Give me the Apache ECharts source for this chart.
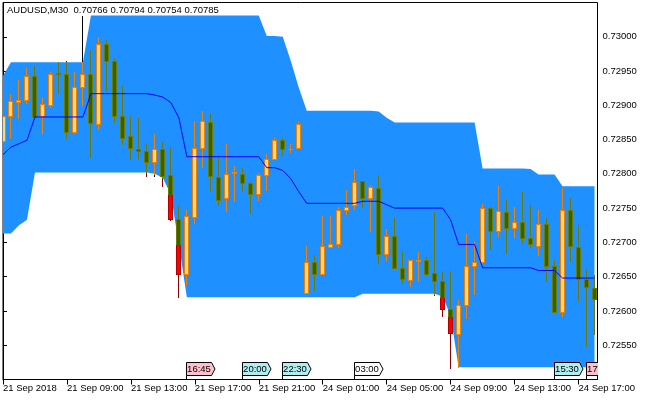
<!DOCTYPE html>
<html>
<head>
<meta charset="utf-8">
<title>AUDUSD,M30</title>
<script src="https://cdn.jsdelivr.net/npm/echarts@6/dist/echarts.min.js"></script>
<style>
  html, body { margin: 0; padding: 0; background: #fff; }
  #main { width: 650px; height: 400px; }
</style>
</head>
<body>
<div id="main"></div>
<script>
// ---- data (one entry per M30 bar, bar 0 = 21 Sep 05:00) ----
var labelBars = [0, 8, 16, 24, 32, 40, 48, 56, 64, 72];
var timeLabels = ['21 Sep 2018', '21 Sep 09:00', '21 Sep 13:00', '21 Sep 17:00', '21 Sep 21:00',
  '24 Sep 01:00', '24 Sep 05:00', '24 Sep 09:00', '24 Sep 13:00', '24 Sep 17:00'];

var opens = [0.72848, 0.72884, 0.72905, 0.72908, 0.72943, 0.72884, 0.72900, 0.72947, 0.72946, 0.72861,
  0.72926, 0.72946, 0.72873, 0.72989, 0.72965, 0.72885, 0.72855, 0.72837, 0.72834, 0.72818,
  0.72837, 0.72798, 0.72734, 0.72654, 0.72737, 0.72838, 0.72876, 0.72796, 0.72765, 0.72801,
  0.72800, 0.72787, 0.72770, 0.72798, 0.72821, 0.72850, 0.72836, 0.72838, 0.72626, 0.72671,
  0.72654, 0.72694, 0.72698, 0.72748, 0.72754, 0.72789, 0.72765, 0.72780, 0.72683, 0.72710,
  0.72663, 0.72645, 0.72673, 0.72674, 0.72655, 0.72644, 0.72603, 0.72567, 0.72608, 0.72666,
  0.72671, 0.72750, 0.72716, 0.72745, 0.72721, 0.72730, 0.72707, 0.72695, 0.72727, 0.72666,
  0.72599, 0.72747, 0.72694, 0.72647, 0.72634];
var closes = [0.72884, 0.72906, 0.72908, 0.72943, 0.72883, 0.72902, 0.72946, 0.72946, 0.72861, 0.72926,
  0.72946, 0.72874, 0.72989, 0.72964, 0.72884, 0.72853, 0.72838, 0.72833, 0.72818, 0.72837,
  0.72797, 0.72734, 0.72654, 0.72738, 0.72838, 0.72877, 0.72797, 0.72762, 0.72800, 0.72802,
  0.72786, 0.72770, 0.72799, 0.72822, 0.72850, 0.72836, 0.72837, 0.72873, 0.72671, 0.72654,
  0.72695, 0.72698, 0.72748, 0.72752, 0.72788, 0.72765, 0.72781, 0.72683, 0.72710, 0.72663,
  0.72646, 0.72674, 0.72674, 0.72654, 0.72643, 0.72603, 0.72568, 0.72609, 0.72665, 0.72672,
  0.72750, 0.72716, 0.72746, 0.72721, 0.72730, 0.72707, 0.72698, 0.72727, 0.72666, 0.72599,
  0.72747, 0.72695, 0.72646, 0.72635, 0.72617];
var highs = [0.72885, 0.72916, 0.72937, 0.72955, 0.72957, 0.72911, 0.72949, 0.72963, 0.72964, 0.72949,
  0.73031, 0.72981, 0.73000, 0.72996, 0.72969, 0.72928, 0.72884, 0.72882, 0.72844, 0.72858,
  0.72847, 0.72839, 0.72755, 0.72747, 0.72877, 0.72892, 0.72887, 0.72828, 0.72844, 0.72812,
  0.72809, 0.72789, 0.72801, 0.72829, 0.72852, 0.72852, 0.72844, 0.72875, 0.72695, 0.72681,
  0.72738, 0.72739, 0.72751, 0.72777, 0.72807, 0.72790, 0.72784, 0.72799, 0.72720, 0.72736,
  0.72688, 0.72675, 0.72686, 0.72678, 0.72744, 0.72658, 0.72659, 0.72616, 0.72712, 0.72700,
  0.72756, 0.72752, 0.72782, 0.72762, 0.72752, 0.72774, 0.72755, 0.72747, 0.72736, 0.72675,
  0.72779, 0.72765, 0.72725, 0.72661, 0.72652];
var lows = [0.72847, 0.72853, 0.72882, 0.72904, 0.72882, 0.72859, 0.72897, 0.72918, 0.72853, 0.72859,
  0.72900, 0.72824, 0.72865, 0.72921, 0.72875, 0.72843, 0.72821, 0.72823, 0.72797, 0.72797,
  0.72782, 0.72733, 0.72620, 0.72640, 0.72728, 0.72810, 0.72777, 0.72754, 0.72746, 0.72760,
  0.72777, 0.72743, 0.72762, 0.72777, 0.72821, 0.72828, 0.72832, 0.72838, 0.72626, 0.72631,
  0.72654, 0.72693, 0.72694, 0.72742, 0.72749, 0.72752, 0.72716, 0.72670, 0.72675, 0.72663,
  0.72641, 0.72637, 0.72643, 0.72653, 0.72624, 0.72592, 0.72517, 0.72518, 0.72590, 0.72625,
  0.72670, 0.72690, 0.72710, 0.72684, 0.72708, 0.72699, 0.72694, 0.72681, 0.72643, 0.72598,
  0.72593, 0.72673, 0.72616, 0.72549, 0.72567];

// channel
var upperBand = [0.72943, 0.72963, 0.72963, 0.72963, 0.72963, 0.72963, 0.72963, 0.72963, 0.72963, 0.72963,
  0.72963, 0.73031, 0.73031, 0.73031, 0.73031, 0.73031, 0.73031, 0.73031, 0.73031, 0.73031,
  0.73031, 0.73031, 0.73031, 0.73031, 0.73031, 0.73031, 0.73031, 0.73031, 0.73031, 0.73031,
  0.73031, 0.73031, 0.73031, 0.73001, 0.73001, 0.73000, 0.72965, 0.72926, 0.72892, 0.72892,
  0.72892, 0.72892, 0.72892, 0.72892, 0.72892, 0.72892, 0.72892, 0.72891, 0.72882, 0.72875,
  0.72875, 0.72875, 0.72875, 0.72875, 0.72875, 0.72875, 0.72875, 0.72875, 0.72875, 0.72875,
  0.72808, 0.72808, 0.72808, 0.72808, 0.72808, 0.72808, 0.72807, 0.72799, 0.72799, 0.72799,
  0.72782, 0.72782, 0.72782, 0.72782, 0.72782];
var lowerBand = [0.72713, 0.72713, 0.72725, 0.72733, 0.72802, 0.72802, 0.72802, 0.72802, 0.72802, 0.72802,
  0.72802, 0.72802, 0.72802, 0.72802, 0.72802, 0.72802, 0.72802, 0.72802, 0.72802, 0.72800,
  0.72794, 0.72770, 0.72697, 0.72620, 0.72620, 0.72620, 0.72620, 0.72620, 0.72620, 0.72620,
  0.72620, 0.72620, 0.72620, 0.72620, 0.72620, 0.72620, 0.72620, 0.72620, 0.72620, 0.72620,
  0.72620, 0.72620, 0.72620, 0.72620, 0.72620, 0.72625, 0.72625, 0.72625, 0.72625, 0.72625,
  0.72625, 0.72625, 0.72625, 0.72625, 0.72625, 0.72621, 0.72593, 0.72518, 0.72518, 0.72518,
  0.72518, 0.72518, 0.72518, 0.72518, 0.72518, 0.72518, 0.72518, 0.72518, 0.72518, 0.72518,
  0.72518, 0.72518, 0.72518, 0.72518, 0.72518];
var midLine = [0.72828, 0.72839, 0.72844, 0.72849, 0.72883, 0.72883, 0.72883, 0.72883, 0.72883, 0.72883,
  0.72883, 0.72917, 0.72917, 0.72917, 0.72917, 0.72917, 0.72917, 0.72917, 0.72917, 0.72915,
  0.72912, 0.72904, 0.72882, 0.72825, 0.72825, 0.72825, 0.72825, 0.72825, 0.72825, 0.72825,
  0.72825, 0.72825, 0.72825, 0.72809, 0.72809, 0.72805, 0.72793, 0.72774, 0.72757, 0.72757,
  0.72757, 0.72757, 0.72757, 0.72757, 0.72757, 0.72760, 0.72760, 0.72760, 0.72755, 0.72750,
  0.72750, 0.72750, 0.72750, 0.72750, 0.72750, 0.72750, 0.72733, 0.72697, 0.72697, 0.72697,
  0.72663, 0.72663, 0.72663, 0.72663, 0.72663, 0.72663, 0.72663, 0.72659, 0.72659, 0.72659,
  0.72648, 0.72648, 0.72648, 0.72648, 0.72648];

// calendar events shown along the bottom
var eventBars = [23, 30, 35, 44, 69, 73];
var eventTimes = ['16:45', '20:00', '22:30', '03:00', '15:30', '17:30'];
var eventLevels = ['high', 'medium', 'medium', 'low', 'medium', 'high'];

// ---- styles ----
var FONT = '"Liberation Sans", Arial, sans-serif';
var eventFill = { high: '#FFC0CB', medium: '#AFEEEE', low: '#FFFFFF' };
var bullIn = { wick: '#F08000', edge: '#F08000', fill: '#F2DB80' };
var bearIn = { wick: '#6E7A00', edge: '#6E7A00', fill: '#2F6200' };
var bullOut = { wick: '#000000', edge: '#000000', fill: '#FFFFFF' };
var bearOut = { wick: '#8B0000', edge: '#B00000', fill: '#FF0000' };

var yMin = 0.725, yMax = 0.7305;

// channel fill: one polygon, upper edge forward then lower edge back
function renderBand(params, api) {
  var pts = [];
  for (var k = 0; k < upperBand.length; k++) pts.push(api.coord([k, upperBand[k]]));
  for (var k2 = lowerBand.length - 1; k2 >= 0; k2--) pts.push(api.coord([k2, lowerBand[k2]]));
  return { type: 'polygon', shape: { points: pts }, style: { fill: '#1E90FF' } };
}

// cut a pixel span [a,b) at the channel edges, flag parts outside it
function split(a, b, yUp, yLo) {
  var cuts = [a];
  if (yUp > a && yUp < b) cuts.push(yUp);
  if (yLo > a && yLo < b) cuts.push(yLo);
  cuts.push(b);
  var res = [];
  for (var j = 0; j < cuts.length - 1; j++) {
    var m = (cuts[j] + cuts[j + 1]) / 2;
    res.push([cuts[j], cuts[j + 1], m < yUp || m > yLo]);
  }
  return res;
}

function renderCandle(params, api) {
  var i = params.dataIndex;
  var k = api.value(0);
  var o = api.value(1), c = api.value(2), l = api.value(3), h = api.value(4);
  var x = api.coord([k, o])[0];
  var yO = Math.round(api.coord([k, o])[1]);
  var yC = Math.round(api.coord([k, c])[1]);
  var yH = Math.round(api.coord([k, h])[1]);
  var yL = Math.round(api.coord([k, l])[1]);
  var yUp = Math.round(api.coord([k, upperBand[i]])[1]);
  var yLo = Math.round(api.coord([k, lowerBand[i]])[1]) + 1;
  var rising = c >= o;
  var sIn = rising ? bullIn : bearIn;
  var sOut = rising ? bullOut : bearOut;
  var top = Math.min(yO, yC), bot = Math.max(yO, yC) + 1;
  var left = Math.round(x - 2.5);
  var kids = [];
  split(yH, yL + 1, yUp, yLo).forEach(function (s) {
    kids.push({ type: 'rect', shape: { x: left + 2, y: s[0], width: 1, height: s[1] - s[0] },
      style: { fill: s[2] ? sOut.wick : sIn.wick } });
  });
  split(top, bot, yUp, yLo).forEach(function (s) {
    var st = s[2] ? sOut : sIn;
    kids.push({ type: 'rect', shape: { x: left, y: s[0], width: 5, height: s[1] - s[0] }, style: { fill: st.edge } });
    var y0 = s[0] === top ? s[0] + 1 : s[0];
    var y1 = s[1] === bot ? s[1] - 1 : s[1];
    if (y1 > y0) {
      kids.push({ type: 'rect', shape: { x: left + 1, y: y0, width: 3, height: y1 - y0 }, style: { fill: st.fill } });
    }
  });
  return { type: 'group', children: kids };
}

function renderEvent(params, api) {
  var i = params.dataIndex;
  var p = api.coord([api.value(0), api.value(1)]);
  var x = Math.round(p[0] - 0.5) + 0.5;
  var base = p[1];
  var yB = base - 4, yT = base - 17, yM = (yT + yB) / 2;
  return {
    type: 'group',
    children: [
      { type: 'polygon', shape: { points: [[x, yT], [x + 25, yT], [x + 28.5, yM], [x + 25, yB], [x, yB]] },
        style: { fill: eventFill[eventLevels[i]], stroke: '#000', lineWidth: 1 } },
      { type: 'line', shape: { x1: x, y1: yB, x2: x, y2: base }, style: { stroke: '#000', lineWidth: 1 } },
      { type: 'text', style: { text: eventTimes[i], x: x + 12.5, y: yM + 0.5, align: 'center', verticalAlign: 'middle',
        font: '9.5px ' + FONT, fill: '#000' } }
    ]
  };
}

var candleData = opens.map(function (o, k) { return [k, o, closes[k], lows[k], highs[k]]; });

var myChart = echarts.init(document.getElementById('main'));
myChart.setOption({
  animation: false,
  backgroundColor: '#fff',
  grid: { left: 2.5, right: 52.5, top: 2.5, bottom: 20.5, show: true, borderColor: '#000', borderWidth: 1, backgroundColor: '#fff' },
  xAxis: {
    type: 'value', min: 0, max: 74.375,
    axisLine: { onZero: false, lineStyle: { color: '#000', width: 1 } },
    axisTick: { show: true, length: 5, customValues: labelBars, lineStyle: { color: '#000' } },
    axisLabel: {
      customValues: labelBars,
      formatter: function (v) { return timeLabels[labelBars.indexOf(v)]; },
      align: 'left', margin: 4, color: '#000', fontFamily: FONT, fontSize: 9.5
    },
    splitLine: { show: false }
  },
  yAxis: {
    type: 'value', position: 'right', min: yMin, max: yMax, interval: 0.0005,
    axisLine: { show: true, lineStyle: { color: '#000', width: 1 } },
    axisTick: { show: true, length: 4, lineStyle: { color: '#000' } },
    axisLabel: {
      showMinLabel: false, showMaxLabel: false, margin: 5, color: '#000', fontFamily: FONT, fontSize: 9.5,
      formatter: function (v) { return v.toFixed(5); }
    },
    splitLine: { show: false }
  },
  graphic: [{
    type: 'text', left: 7, top: 5, z: 10,
    style: { text: 'AUDUSD,M30  0.70766 0.70794 0.70754 0.70785', font: '9.5px ' + FONT, fill: '#000' }
  }],
  series: [
    { type: 'custom', renderItem: renderBand, data: [[0, yMin]], encode: { x: 0, y: 1 }, clip: true, z: 1, silent: true },
    { type: 'custom', renderItem: renderCandle, data: candleData, encode: { x: 0, y: [1, 2, 3, 4] }, clip: true, z: 2, silent: true },
    { type: 'line', data: midLine.map(function (v, k) { return [k, v]; }), symbol: 'none', silent: true, z: 3,
      lineStyle: { color: '#0000FF', width: 1 } },
    { type: 'custom', renderItem: renderEvent, data: eventBars.map(function (k) { return [k, yMin]; }),
      encode: { x: 0, y: 1 }, clip: true, z: 4, silent: true }
  ]
});
</script>
</body>
</html>
